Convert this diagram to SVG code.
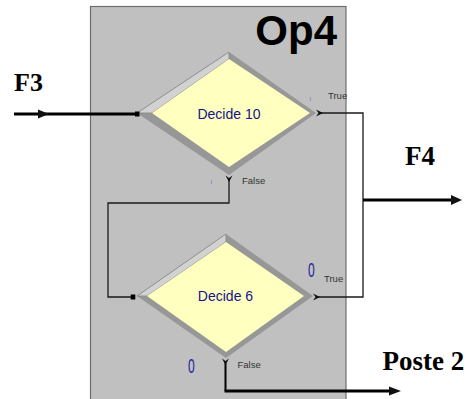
<svg xmlns="http://www.w3.org/2000/svg" width="467" height="399" viewBox="0 0 467 399">
<style>
.bg{fill:#c0c0c0;stroke:#6e6e6e;stroke-width:1.2}
.outer{fill:#979797}
.hl{fill:#d2d2d2;stroke:#8a8a8a;stroke-width:0.9}
.inner{fill:#ffffc0}
.lbl{font-family:"Liberation Sans",Arial,sans-serif;font-size:14px;fill:#14148c;text-anchor:middle}
.tf{font-family:"Liberation Sans",Arial,sans-serif;font-size:9.5px;fill:#333333}
.big{font-family:"Liberation Serif","Times New Roman",serif;font-weight:bold;fill:#000000}
.cnt{font-family:"Liberation Sans",Arial,sans-serif;fill:#1c1c9c}
.tiny{font-family:"Liberation Sans",Arial,sans-serif;font-size:6px;fill:#7070c8}
.thin{fill:none;stroke:#1a1a1a;stroke-width:1.3}
.thick{fill:none;stroke:#000000;stroke-width:3}
.ah{fill:#111111}
</style>
<rect id="op4-frame" class="bg" x="90.5" y="6.5" width="255.5" height="400"/>
<text x="337" y="45" font-family="Liberation Sans,Arial,sans-serif" font-weight="bold" font-size="42" text-anchor="end" fill="#000">Op4</text>
<g id="decide10">
  <polygon class="outer" points="229,52 316,113 229,175 137,113"/>
  <polygon class="hl" points="137,113 229,52 229,59 152,113"/>
  <polygon class="inner" points="229,59 310,113 229,167 152,113"/>
  <text class="lbl" x="229" y="119">Decide 10</text>
  <rect x="135" y="111.5" width="4.5" height="5" fill="#000"/>
  <text class="tiny" x="309.5" y="101">I</text>
  <text class="tiny" x="210.5" y="184">I</text>
  <text class="tf" x="328" y="99">True</text>
  <text class="tf" x="242" y="184">False</text>
</g>
<g id="decide6">
  <polygon class="outer" points="226,234 313,296 226,358 137,296"/>
  <polygon class="hl" points="137,296 226,234 226,242 147,296"/>
  <polygon class="inner" points="226,242 304,296 226,352 147,296"/>
  <text class="lbl" x="225.5" y="301">Decide 6</text>
  <rect x="130.7" y="294.5" width="4.6" height="5" fill="#000"/>
  <text class="cnt" font-size="20" transform="translate(308,276.5) scale(0.6,1)">0</text>
  <text class="cnt" font-size="20" transform="translate(188,372.5) scale(0.6,1)">0</text>
  <text class="tf" x="324" y="282">True</text>
  <text class="tf" x="237.5" y="367.5">False</text>
</g>
<g id="labels">
  <text class="big" x="14" y="90.5" font-size="26">F3</text>
  <text class="big" x="405" y="164.5" font-size="27">F4</text>
  <text class="big" x="382.5" y="370" font-size="27">Poste 2</text>
</g>
<g id="connectors">
  <path class="thick" d="M14,114 H135"/>
  <polygon class="ah" points="38,109.5 49,114 38,118.5"/>
  <path class="thin" d="M321,113 H363 V297 H318"/>
  <polygon class="ah" points="316,109.5 323,113 316,116.5 318.5,113"/>
  <polygon class="ah" points="313,293.5 320,297 313,300.5 315.5,297"/>
  <path class="thin" d="M229,178 V203 H108 V297 H131"/>
  <polygon class="ah" points="225.5,175.5 229,182 232.5,175.5 229,178"/>
  <path class="thick" d="M363,200 H452"/>
  <polygon class="ah" points="451,195 462,200 451,205"/>
  <path d="M225.5,362 V391" fill="none" stroke="#000" stroke-width="2"/>
  <path class="thick" d="M224.5,391 H390"/>
  <polygon class="ah" points="389,386.5 401,391 389,395.5"/>
  <polygon class="ah" points="222,358.5 225.5,365 229,358.5 225.5,361"/>
</g>
</svg>
